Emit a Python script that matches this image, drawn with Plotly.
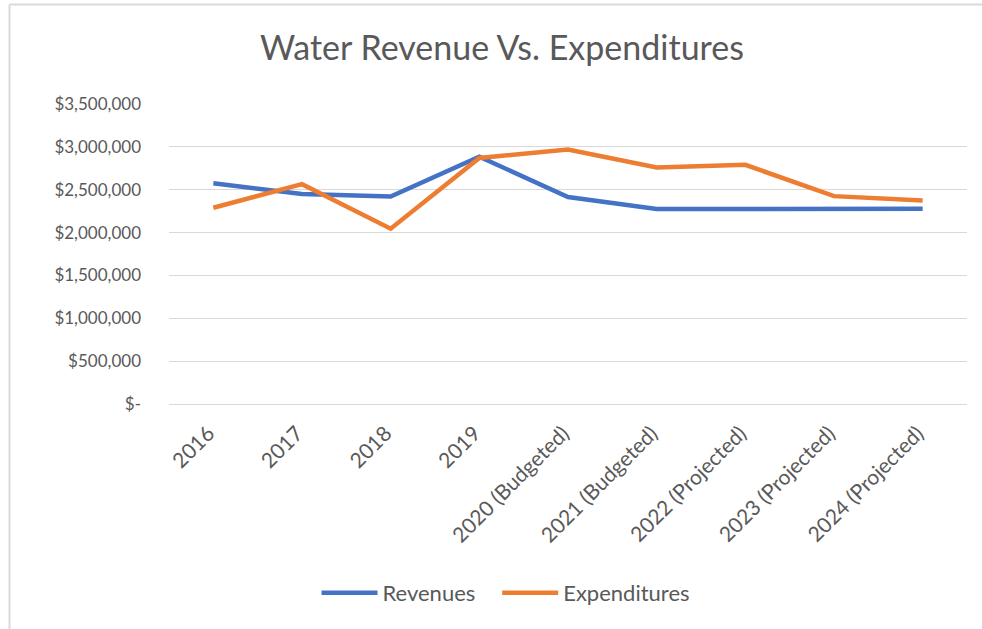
import plotly.graph_objects as go

categories = ["2016", "2017", "2018", "2019", "2020 (Budgeted)", "2021 (Budgeted)",
              "2022 (Projected)", "2023 (Projected)", "2024 (Projected)"]
revenues = [2575000, 2450000, 2420000, 2885000, 2415000, 2275000, 2275000, 2278000, 2278000]
expenditures = [2290000, 2565000, 2045000, 2870000, 2970000, 2760000, 2790000, 2425000, 2375000]
series_names = ["Revenues", "Expenditures"]

y_tickvals = [0, 500000, 1000000, 1500000, 2000000, 2500000, 3000000, 3500000]
y_ticktext = ["$-", "$500,000", "$1,000,000", "$1,500,000", "$2,000,000",
              "$2,500,000", "$3,000,000", "$3,500,000"]

FONT = "Lato"
GRAY = "#595959"
PAD = "\u00a0" * 3

fig = go.Figure()
fig.add_trace(go.Scatter(x=categories, y=revenues, mode="lines", name=series_names[0] + PAD,
                         line=dict(color="#4472C4", width=4.5)))
fig.add_trace(go.Scatter(x=categories, y=expenditures, mode="lines", name=series_names[1],
                         line=dict(color="#ED7D31", width=4.5)))

W, H = 982, 629
L, R, T, B = 169, 15, 104, 225
pw = W - L - R
ph = H - T - B

fig.update_layout(
    width=W, height=H,
    margin=dict(l=L, r=R, t=T, b=B, autoexpand=False),
    paper_bgcolor="white", plot_bgcolor="white",
    font=dict(family=FONT, color=GRAY, size=18),
    title=dict(text="Water Revenue Vs. Expenditures", x=502 / W, xanchor="center",
               y=1 - 48 / H, yanchor="middle", xref="container", yref="container",
               font=dict(size=34, color=GRAY, family=FONT)),
    showlegend=True,
    legend=dict(orientation="h", x=(506 - L) / pw, xanchor="center",
                y=-(593 - (H - B)) / ph, yanchor="middle",
                font=dict(size=22, color=GRAY, family=FONT), itemwidth=56),
    xaxis=dict(type="category", range=[-0.5, 8.5], tickangle=-45, showgrid=False,
               showline=False, ticks="", automargin=False, ticklabelstandoff=12,
               ticklabelshift=-5,
               tickfont=dict(size=21, color=GRAY, family=FONT)),
    yaxis=dict(range=[0, 3500000], tickvals=y_tickvals, ticktext=y_ticktext,
               showgrid=True, gridcolor="#D9D9D9", gridwidth=1.2,
               zeroline=True, zerolinecolor="#D9D9D9", zerolinewidth=1.2,
               showline=False, ticks="", ticklabelstandoff=27, automargin=False,
               tickfont=dict(size=17, color=GRAY, family=FONT)),
    shapes=[
        dict(type="line", xref="paper", yref="paper",
             x0=(9.5 - L) / pw, x1=(9.5 - L) / pw, y0=(H - B - 4.5) / ph, y1=-(B + 2) / ph,
             line=dict(color="#D9D9D9", width=2)),
        dict(type="line", xref="paper", yref="paper",
             x0=(9.5 - L) / pw, x1=(W - L + 5) / pw, y0=(H - B - 4.5) / ph, y1=(H - B - 4.5) / ph,
             line=dict(color="#D9D9D9", width=2)),
    ],
)

fig.write_html("out.html", config={"displayModeBar": False},
               post_script="document.body.style.margin='0px';")
